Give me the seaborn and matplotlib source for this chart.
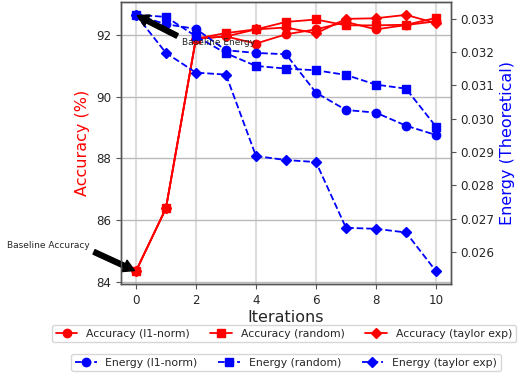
import matplotlib
matplotlib.use("Agg")
import matplotlib.pyplot as plt
import seaborn as sns
import pandas as pd

iterations = [0, 1, 2, 3, 4, 5, 6, 7, 8, 9, 10]

acc_l1 = [84.34, 86.38, 91.88, 91.95, 91.72, 92.02, 92.18, 92.42, 92.18, 92.32, 92.44]
acc_random = [84.34, 86.38, 91.88, 92.06, 92.18, 92.42, 92.50, 92.31, 92.31, 92.33, 92.55]
acc_taylor = [84.34, 86.38, 91.88, 91.95, 92.18, 92.24, 92.05, 92.52, 92.54, 92.65, 92.38]

energy_l1 = [0.03311, 0.03283, 0.03269, 0.03205, 0.03197, 0.03193, 0.03078, 0.03026, 0.03018, 0.02979, 0.02951]
energy_random = [0.03311, 0.03305, 0.03247, 0.03196, 0.03158, 0.03150, 0.03145, 0.03131, 0.03102, 0.03090, 0.02976]
energy_taylor = [0.03311, 0.03197, 0.03138, 0.03132, 0.02888, 0.02876, 0.02870, 0.02673, 0.02670, 0.02659, 0.02543]

acc_labels = ["Accuracy (l1-norm)", "Accuracy (random)", "Accuracy (taylor exp)"]
energy_labels = ["Energy (l1-norm)", "Energy (random)", "Energy (taylor exp)"]
markers = ["o", "s", "D"]

sns.set_style("white")
plt.rcParams["font.family"] = ["DejaVu Sans"]

fig = plt.figure(figsize=(5.19, 3.80), dpi=100)
ax1 = fig.add_axes([0.233, 0.2526, 0.636, 0.742])
ax2 = ax1.twinx()

for vals, lab, mk in zip([acc_l1, acc_random, acc_taylor], acc_labels, markers):
    df = pd.DataFrame({"Iterations": iterations, "v": vals})
    sns.lineplot(data=df, x="Iterations", y="v", ax=ax1, color="red", marker=mk,
                 markersize=6 if mk != "D" else 5.5, markeredgecolor="red",
                 markeredgewidth=1, linewidth=1.3, label=lab, legend=False)

for vals, lab, mk in zip([energy_l1, energy_random, energy_taylor], energy_labels, markers):
    df = pd.DataFrame({"Iterations": iterations, "v": vals})
    sns.lineplot(data=df, x="Iterations", y="v", ax=ax2, color="blue", marker=mk,
                 markersize=6 if mk != "D" else 5.5, markeredgecolor="blue",
                 markeredgewidth=1, linewidth=1.3, linestyle="--", label=lab, legend=False)

for ax in (ax1, ax2):
    for s in ax.spines.values():
        s.set_color("#555555")
        s.set_linewidth(1.0)
    ax.tick_params(axis="both", labelsize=8.6, length=3.5, width=0.8, color="#555555",
                   direction="out", bottom=True, left=(ax is ax1), right=(ax is ax2))

ax1.xaxis.grid(True, color="#dddddd", linewidth=1.5)
ax1.yaxis.grid(True, color="#bbbbbb", linewidth=1.0)
ax1.set_axisbelow(True)

ax1.set_xlabel("Iterations", fontsize=11.5, labelpad=2)
ax1.set_ylabel("Accuracy (%)", color="red", fontsize=11.5)
ax2.set_ylabel("Energy (Theoretical)", color="blue", fontsize=11.5)
ax1.set_xticks([0, 2, 4, 6, 8, 10])

ax2.annotate("Baseline Energy", xy=(0, energy_l1[0]), xytext=(1.53, 0.0322),
             fontsize=6.5, arrowprops=dict(facecolor="black", edgecolor="black",
                                           width=3.5, headwidth=9, headlength=8, shrink=0.03))
ax1.annotate("Baseline Accuracy", xy=(0, acc_l1[0]), xytext=(-4.31, 85.1),
             fontsize=6.5, annotation_clip=False,
             arrowprops=dict(facecolor="black", edgecolor="black",
                             width=3.5, headwidth=9, headlength=8, shrink=0.03))

h1, l1 = ax1.get_legend_handles_labels()
h2, l2 = ax2.get_legend_handles_labels()
fig.legend(h1, l1, loc="center", bbox_to_anchor=(0.547, 0.122), ncol=3, fontsize=7.8,
           frameon=True, edgecolor="#cccccc", borderpad=0.35, handletextpad=0.8,
           columnspacing=1.9)
fig.legend(h2, l2, loc="center", bbox_to_anchor=(0.551, 0.046), ncol=3, fontsize=7.8,
           frameon=True, edgecolor="#cccccc", borderpad=0.35, handletextpad=0.8,
           columnspacing=1.9)

fig.savefig("out.png", dpi=100)
